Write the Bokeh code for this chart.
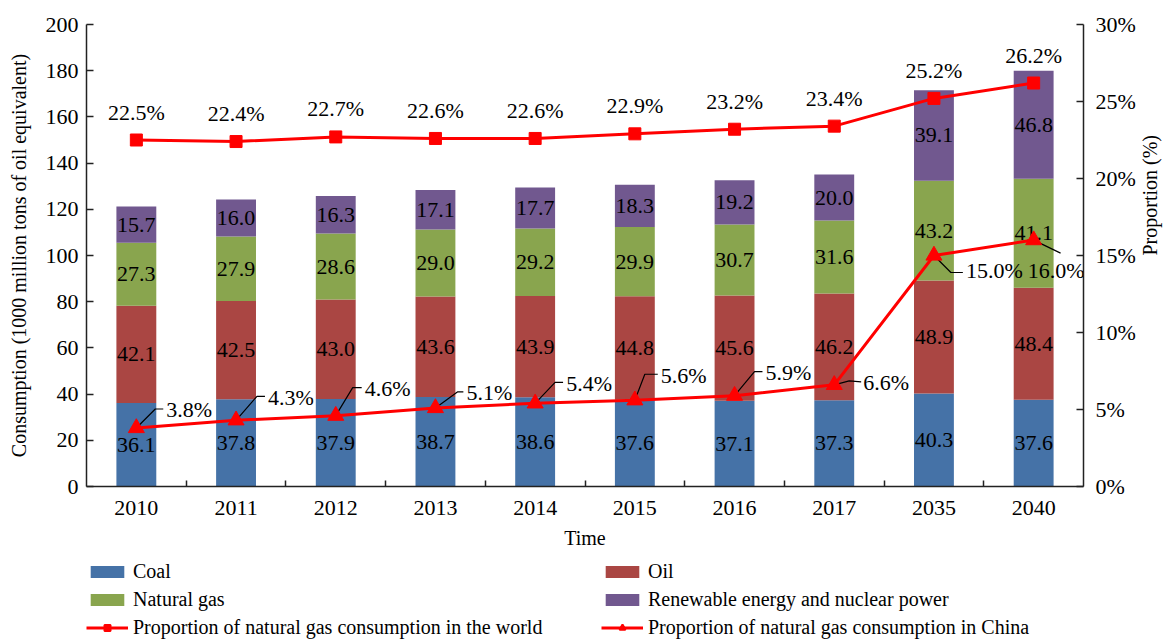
import math
import numpy as np
from bokeh.plotting import figure
from bokeh.layouts import column
from bokeh.models import (Range1d, LinearAxis, FixedTicker, Legend, LegendItem,
                          ColumnDataSource, CustomJSTickFormatter)
from bokeh.core.properties import value
from bokeh.embed import file_html
from bokeh.resources import INLINE

# ---------------- data ----------------
years = ["2010", "2011", "2012", "2013", "2014", "2015", "2016", "2017", "2035", "2040"]
coal = [36.1, 37.8, 37.9, 38.7, 38.6, 37.6, 37.1, 37.3, 40.3, 37.6]
oil = [42.1, 42.5, 43.0, 43.6, 43.9, 44.8, 45.6, 46.2, 48.9, 48.4]
# drawn segment heights (the 2040 segment is drawn ~47 tall in the source)
natural_gas = [27.3, 27.9, 28.6, 29.0, 29.2, 29.9, 30.7, 31.6, 43.2, 47.2]
# value labels as printed in the source chart
natural_gas_labels = ["27.3", "27.9", "28.6", "29.0", "29.2", "29.9", "30.7", "31.6", "43.2", "41.1"]
renewable = [15.7, 16.0, 16.3, 17.1, 17.7, 18.3, 19.2, 20.0, 39.1, 46.8]
world_pct = [22.5, 22.4, 22.7, 22.6, 22.6, 22.9, 23.2, 23.4, 25.2, 26.2]
china_pct = [3.8, 4.3, 4.6, 5.1, 5.4, 5.6, 5.9, 6.6, 15.0, 16.0]

series_names = ["Coal", "Oil", "Natural gas", "Renewable energy and nuclear power"]
series_colors = ["#4572A7", "#AA4643", "#89A54E", "#71588F"]
world_name = "Proportion of natural gas consumption in the world"
china_name = "Proportion of natural gas consumption in China"

# ---------------- label styling (pixel offsets for China labels) ----------------
china_lbl_dx = [30, 32, 29, 31, 31, 26, 31, 29, 32, -6]
china_lbl_dy = [-18, -23, -27, -15, -20, -25, -23, -2, 15, 30]
china_elb_dx = [19, 21, 17, 22, 20, 10, 20, 15, 17, 27]
china_elb_dy = [-19, -24, -28, -16, -21, -26, -24, -4, 17, 13]
china_end_dx = [27, 29, 26, 28, 28, 23, 28, 27, 29, 27]
china_end_dy = [-19, -24, -28, -16, -21, -26, -24, -3, 17, 13]

FONT = "Liberation Serif"
W = 1174
H1 = 560
H2 = 639 - H1
ML, MR, MT = 86, 88, 24
FRAME_W, FRAME_H = 1000, 462
MB = H1 - MT - FRAME_H

n = len(years)
xs = [i + 0.5 for i in range(n)]
PX_X = FRAME_W / n          # pixels per x unit
PX_P = FRAME_H / 30.0       # pixels per percent unit

p = figure(width=W, height=H1, x_range=Range1d(0, n), y_range=Range1d(0, 200),
           output_backend="svg", toolbar_location=None,
           min_border_left=ML, min_border_right=MR, min_border_top=MT,
           min_border_bottom=MB)
p.outline_line_color = None
p.grid.visible = False
p.background_fill_color = "white"
p.extra_y_ranges = {"pct": Range1d(0, 30)}

# ---------------- stacked bars ----------------
stack = np.array([coal, oil, natural_gas, renewable])
labels = [[f"{v:.1f}" for v in coal], [f"{v:.1f}" for v in oil],
          natural_gas_labels, [f"{v:.1f}" for v in renewable]]
bottoms = np.vstack([np.zeros(n), np.cumsum(stack, axis=0)[:-1]])
tops = np.cumsum(stack, axis=0)
for k in range(4):
    src = ColumnDataSource(dict(x=xs, bottom=bottoms[k], top=tops[k],
                                mid=(bottoms[k] + tops[k]) / 2,
                                lbl=labels[k]))
    p.vbar(x="x", width=0.4, bottom="bottom", top="top", source=src,
           fill_color=series_colors[k], line_color=None)
    p.text(x="x", y="mid", text="lbl", source=src, text_align="center",
           text_baseline="middle", text_font=value(FONT), text_font_size="22px",
           text_color="black")

# ---------------- world line ----------------
wsrc = ColumnDataSource(dict(x=xs, y=world_pct, lbl=[f"{v:.1f}%" for v in world_pct]))
p.line("x", "y", source=wsrc, y_range_name="pct", line_color="#FF0000", line_width=3)
p.scatter("x", "y", source=wsrc, y_range_name="pct", marker="square", size=12,
          fill_color="#FF0000", line_color="#FF0000")
p.text(x="x", y="y", text="lbl", source=wsrc, y_range_name="pct", y_offset=-28,
       text_align="center", text_baseline="middle", text_font=value(FONT),
       text_font_size="22px", text_color="black")

# ---------------- China line ----------------
csrc = ColumnDataSource(dict(x=xs, y=china_pct, lbl=[f"{v:.1f}%" for v in china_pct],
                             dx=china_lbl_dx, dy=china_lbl_dy))
p.line("x", "y", source=csrc, y_range_name="pct", line_color="#FF0000", line_width=3)
lx, ly = [], []
for i in range(n):
    x0, y0 = xs[i], china_pct[i]
    lx.append([x0, x0 + china_elb_dx[i] / PX_X, x0 + china_end_dx[i] / PX_X])
    ly.append([y0, y0 - china_elb_dy[i] / PX_P, y0 - china_end_dy[i] / PX_P])
p.multi_line(lx, ly, y_range_name="pct", line_color="black", line_width=1.2)
p.scatter("x", "y", source=csrc, y_range_name="pct", marker="triangle", size=16,
          fill_color="#FF0000", line_color="#FF0000")
p.text(x="x", y="y", text="lbl", source=csrc, y_range_name="pct",
       x_offset="dx", y_offset="dy", text_align="left", text_baseline="middle",
       text_font=value(FONT), text_font_size="22px", text_color="black")

# ---------------- axes ----------------
def style_axis(ax):
    ax.axis_line_color = "#222222"
    ax.axis_line_width = 1.5
    ax.major_tick_line_color = "#222222"
    ax.major_tick_line_width = 1.5
    ax.minor_tick_line_color = "#222222"
    ax.minor_tick_line_width = 1.5
    ax.major_tick_in = 7
    ax.major_tick_out = 0
    ax.minor_tick_in = 0
    ax.minor_tick_out = 0
    ax.major_label_text_font = FONT
    ax.major_label_text_font_size = "22px"
    ax.major_label_text_color = "black"
    ax.axis_label_text_font = FONT
    ax.axis_label_text_font_size = "20px"
    ax.axis_label_text_font_style = "normal"
    ax.axis_label_text_color = "black"

xa = p.xaxis[0]
style_axis(xa)
xa.ticker = FixedTicker(ticks=xs, minor_ticks=list(range(1, n)))
xa.formatter = CustomJSTickFormatter(args=dict(labels=years),
                                     code="return labels[Math.round(tick - 0.5)]")
xa.major_tick_in = 0
xa.minor_tick_in = 6
xa.major_label_standoff = 14
xa.axis_label = "Time"
xa.axis_label_standoff = 9

ya = p.yaxis[0]
style_axis(ya)
ya.ticker = FixedTicker(ticks=list(range(0, 201, 20)), minor_ticks=[])
ya.major_label_standoff = 8
ya.axis_label = "Consumption (1000 million tons of oil equivalent)"
ya.axis_label_standoff = 13

ra = LinearAxis(y_range_name="pct", ticker=FixedTicker(ticks=list(range(0, 31, 5)), minor_ticks=[]),
                formatter=CustomJSTickFormatter(code="return tick + '%'"))
style_axis(ra)
ra.major_label_standoff = 12
ra.axis_label = "Proportion (%)"
ra.axis_label_standoff = 11
ra.axis_label_orientation = math.pi / 2
p.add_layout(ra, "right")

# ---------------- legend (separate strip under the chart) ----------------
q = figure(width=W, height=H2, x_range=Range1d(0, 1), y_range=Range1d(0, 1),
           output_backend="svg", toolbar_location=None,
           x_axis_location=None, y_axis_location=None, min_border=0)
q.outline_line_color = None
q.grid.visible = False
nan = np.array([np.nan])
proxies = [q.vbar(x=nan, top=nan, width=0.1, fill_color=c, line_color=None) for c in series_colors]
wl_p = q.line(x=nan, y=nan, line_color="#FF0000", line_width=3)
ws_p = q.scatter(x=nan, y=nan, marker="square", fill_color="#FF0000", line_color="#FF0000", line_width=2)
cl_p = q.line(x=nan, y=nan, line_color="#FF0000", line_width=3)
cs_p = q.scatter(x=nan, y=nan, marker="triangle", fill_color="#FF0000", line_color="#FF0000", line_width=2)

items = [LegendItem(label=series_names[k], renderers=[proxies[k]]) for k in range(4)]
items.append(LegendItem(label=world_name, renderers=[wl_p, ws_p]))
items.append(LegendItem(label=china_name, renderers=[cl_p, cs_p]))
legend = Legend(items=items, orientation="horizontal", ncols=2, location=(0, 0),
                margin=0, padding=0, spacing=5, glyph_width=42, glyph_height=15,
                label_standoff=5, label_width=463, label_height=20,
                label_text_font=FONT, label_text_font_size="20px",
                label_text_color="black", border_line_color=None,
                background_fill_alpha=0)
q.add_layout(legend, "center")

layout = column(p, q, spacing=0)
open("out.html", "w").write(file_html(layout, INLINE))
